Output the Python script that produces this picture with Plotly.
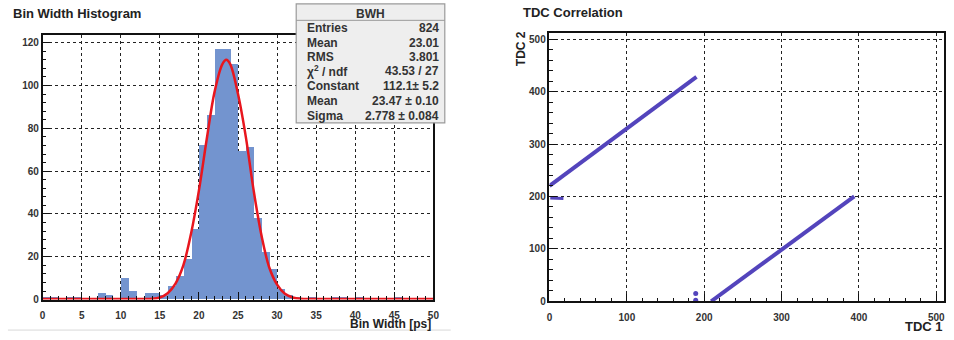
import plotly.graph_objects as go

W, H = 954, 340

# ---------------- data: Bin Width Histogram ----------------
bin_left = list(range(0, 50))
counts = [1, 1, 0, 1, 1, 0, 0, 3, 2, 0,
          10, 4, 0, 3, 3, 2, 6, 11, 19, 33,
          72, 86, 117, 117, 110, 69, 71, 38, 22, 14,
          5, 2, 1, 0, 1, 0, 0, 1, 1, 0,
          1, 0, 0, 0, 0, 1, 0, 0, 0, 0]

# red fit curve
fit_x = [0, 10, 14, 15, 16, 17, 18, 19, 20, 21, 22, 23, 23.5, 24, 25, 26, 27, 28, 29, 30, 31, 32, 33, 35, 50]
fit_y = [0.3, 0.3, 0.4, 1.0, 3.0, 7.5, 16, 31, 51, 75, 97, 110, 112, 110, 96, 76, 51, 30, 15, 7, 2.7, 1.0, 0.4, 0.3, 0.3]

stat_names = ["Entries", "Mean", "RMS", "χ<sup>2</sup> / ndf", "Constant", "Mean", "Sigma"]
stat_values = ["824", "23.01", "3.801", "43.53 / 27", "112.1± 5.2", "23.47 ± 0.10", "2.778 ± 0.084"]

# ---------------- data: TDC Correlation ----------------
band1_x = [0, 190]
band1_y = [220, 428]
band2_x = [209, 394]
band2_y = [0, 200]
blob_x = [1, 18]
blob_y = [197, 196]
dots_x = [189, 189]
dots_y = [15, 2]

def px(x):
    return x / W

def py(y):
    return 1 - y / H

fig = go.Figure()

BLUE = "#7394CF"
fig.add_trace(go.Bar(x=[b + 0.5 for b in bin_left], y=counts, width=1,
                     marker=dict(color=BLUE, line=dict(width=0)),
                     xaxis="x", yaxis="y", showlegend=False))
fig.add_trace(go.Scatter(x=fit_x, y=fit_y, mode="lines", line=dict(color="#E8161E", width=2.5, shape="spline"),
                         xaxis="x", yaxis="y", showlegend=False))

PURP = "#5344BC"
for bx, by, w in [(band1_x, band1_y, 4), (band2_x, band2_y, 4), (blob_x, blob_y, 3)]:
    fig.add_trace(go.Scatter(x=bx, y=by, mode="lines", line=dict(color=PURP, width=w),
                             xaxis="x2", yaxis="y2", showlegend=False))
fig.add_trace(go.Scatter(x=dots_x, y=dots_y, mode="markers", marker=dict(color=PURP, size=5),
                         xaxis="x2", yaxis="y2", showlegend=False))

tickfont = dict(family="Liberation Sans", size=10, color="#333", weight="bold")
common = dict(showline=True, linecolor="#111", linewidth=1.5, mirror=True,
              showgrid=True, gridcolor="#222", griddash="dot", gridwidth=1,
              zeroline=False, ticks="inside", ticklen=8, tickcolor="#111",
              tickfont=tickfont, fixedrange=True)
xextra = dict(ticklabelstandoff=6)

fig.update_layout(
    width=W, height=H, margin=dict(l=0, r=0, t=0, b=0),
    paper_bgcolor="white", plot_bgcolor="white", bargap=0,
    xaxis=dict(domain=[px(40), px(434.5)], range=[0, 50], anchor="y", dtick=5, tick0=0,
               minor=dict(dtick=1, ticks="inside", ticklen=4, tickcolor="#111", showgrid=False), **common, **xextra),
    yaxis=dict(domain=[py(305), py(36)], range=[0, 123.4], anchor="x", dtick=20, tick0=0,
               minor=dict(dtick=4, ticks="inside", ticklen=4, tickcolor="#111", showgrid=False), **common),
    xaxis2=dict(domain=[px(551.7), px(950)], range=[0, 510], anchor="y2", dtick=100, tick0=0,
                minor=dict(dtick=20, ticks="inside", ticklen=4, tickcolor="#111", showgrid=False), **common, **xextra),
    yaxis2=dict(domain=[py(306.7), py(34)], range=[0, 511], anchor="x2", dtick=100, tick0=0,
                minor=dict(dtick=20, ticks="inside", ticklen=4, tickcolor="#111", showgrid=False), **common),
)

ann = []
def text(x, y, s, size=12, xanchor="left", angle=0, color="#222", bold=True):
    ann.append(dict(x=px(x), y=py(y), xref="paper", yref="paper", text=(f"<b>{s}</b>" if bold else s),
                    showarrow=False, xanchor=xanchor, yanchor="middle", textangle=angle,
                    font=dict(family="Liberation Sans", size=size, color=color)))

text(8, 14, "Bin Width Histogram", size=13)
text(523, 13, "TDC Correlation", size=13)
text(434, 330, "Bin Width [ps]", size=12, xanchor="right")
text(951, 332, "TDC 1", size=13, xanchor="right")
ann.append(dict(x=px(523), y=py(50), xref="paper", yref="paper", text="<b>TDC 2</b>", showarrow=False,
                xanchor="center", yanchor="middle", textangle=-90,
                font=dict(family="Liberation Sans", size=12, color="#222")))

# stats box
shapes = [
    dict(type="rect", xref="paper", yref="paper", x0=px(296), x1=px(446), y0=py(125), y1=py(4),
         fillcolor="#EEEEEE", line=dict(color="#9A9A9A", width=1.2), layer="above"),
    dict(type="line", xref="paper", yref="paper", x0=px(296), x1=px(446), y0=py(20.7), y1=py(20.7),
         line=dict(color="#9A9A9A", width=1), layer="above"),
    dict(type="line", xref="paper", yref="paper", x0=px(5), x1=px(452), y0=py(336), y1=py(336),
         line=dict(color="#D8D8D8", width=1)),
]
text(371, 14, "BWH", size=12, xanchor="center", color="#333")
rows_y = [28, 43.5, 58, 72.5, 87.5, 102.5, 118]
for name, val, yy in zip(stat_names, stat_values, rows_y):
    text(305, yy, name, size=12, color="#333")
    text(442, yy, val, size=12, xanchor="right", color="#333")

fig.update_layout(annotations=ann, shapes=shapes)
fig.write_html("out.html", config={"displayModeBar": False},
               post_script="document.body.style.margin='0';document.body.style.overflow='hidden';")
